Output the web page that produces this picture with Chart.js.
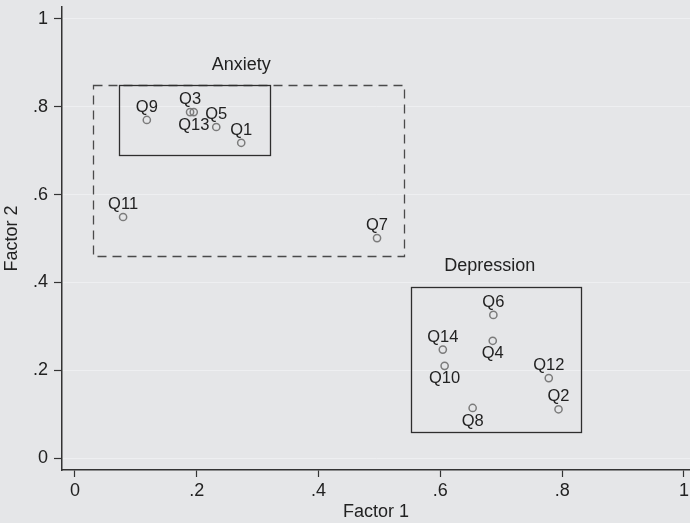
<!DOCTYPE html>
<html>
<head>
<meta charset="utf-8">
<script src="https://cdn.jsdelivr.net/npm/chart.js@4.4.0/dist/chart.umd.min.js"></script>
<style>
  html, body { margin: 0; padding: 0; background: #e5e6e8; }
  canvas { display: block; }
</style>
</head>
<body>
<canvas id="loadings" width="690" height="523"></canvas>
<script>
// Rotated factor loadings for the 14 questionnaire items
const itemNames       = ['Q1', 'Q2', 'Q3', 'Q4', 'Q5', 'Q6', 'Q7', 'Q8', 'Q9', 'Q10', 'Q11', 'Q12', 'Q13', 'Q14'];
const factor1Loadings = [0.273, 0.794, 0.189, 0.686, 0.232, 0.687, 0.496, 0.653, 0.118, 0.607, 0.079, 0.778, 0.195, 0.604];
const factor2Loadings = [0.718, 0.111, 0.788, 0.267, 0.754, 0.326, 0.501, 0.114, 0.770, 0.210, 0.549, 0.182, 0.788, 0.247];
// which side of the marker each item name sits on
const labelSide       = ['above', 'above', 'above', 'below', 'above', 'above', 'above', 'below', 'above', 'below', 'above', 'above', 'below', 'above'];

// Axis ticks
const tickValues = [0, 0.2, 0.4, 0.6, 0.8, 1];
const tickLabels = ['0', '.2', '.4', '.6', '.8', '1'];

// Grouping boxes in loading units: [x1, y1, x2, y2]
const groupNames   = ['Anxiety', 'Depression'];
const groupLabelX  = [0.273, 0.681];
const groupLabelY  = [0.895, 0.437];
const outerAnxietyBox = [0.029, 0.460, 0.540, 0.850];
const innerAnxietyBox = [0.072, 0.690, 0.320, 0.850];
const depressionBox   = [0.551, 0.060, 0.830, 0.390];

const FONT = '"Liberation Sans", Arial, Helvetica, sans-serif';
const INK = '#222222';

const points = itemNames.map((n, i) => ({ x: factor1Loadings[i], y: factor2Loadings[i] }));

const noPadding = () => ({ left: 0, right: 0, top: 0, bottom: 0 });

const backdrop = {
  id: 'backdrop',
  beforeDraw(chart) {
    const ctx = chart.ctx;
    ctx.save();
    ctx.fillStyle = '#e5e6e8';
    ctx.fillRect(0, 0, chart.width, chart.height);
    ctx.restore();
  }
};

// the x axis runs all the way to the right edge of the canvas
const fullWidthPlot = {
  id: 'fullWidthPlot',
  afterLayout(chart) {
    const x = chart.scales.x;
    x.right = chart.width;
    x.width = x.right - x.left;
    x.configure();
    chart.chartArea.right = chart.width;
    chart.chartArea.width = chart.chartArea.right - chart.chartArea.left;
  }
};

const groupBoxes = {
  id: 'groupBoxes',
  afterDatasetsDraw(chart) {
    const { ctx, scales: { x, y } } = chart;
    const rect = (b) => {
      const l = x.getPixelForValue(b[0]), r = x.getPixelForValue(b[2]);
      const t = y.getPixelForValue(b[3]), btm = y.getPixelForValue(b[1]);
      ctx.strokeRect(Math.round(l) + 0.5, Math.round(t) + 0.5, Math.round(r - l), Math.round(btm - t));
    };
    ctx.save();
    ctx.lineWidth = 1.3;
    ctx.strokeStyle = '#4a4a4a';
    ctx.setLineDash([9, 6]);
    rect(outerAnxietyBox);
    ctx.setLineDash([]);
    ctx.strokeStyle = '#2e2e2e';
    rect(innerAnxietyBox);
    rect(depressionBox);

    ctx.fillStyle = INK;
    ctx.font = '18px ' + FONT;
    ctx.textAlign = 'center';
    ctx.textBaseline = 'middle';
    groupNames.forEach((g, i) => {
      ctx.fillText(g, x.getPixelForValue(groupLabelX[i]), y.getPixelForValue(groupLabelY[i]));
    });
    ctx.restore();
  }
};

const itemLabels = {
  id: 'itemLabels',
  afterDatasetsDraw(chart) {
    const ctx = chart.ctx;
    const meta = chart.getDatasetMeta(0);
    ctx.save();
    ctx.fillStyle = INK;
    ctx.font = '16.5px ' + FONT;
    ctx.textAlign = 'center';
    ctx.textBaseline = 'middle';
    meta.data.forEach((pt, i) => {
      const dy = labelSide[i] === 'below' ? 13 : -12.5;
      ctx.fillText(itemNames[i], pt.x, pt.y + dy);
    });
    ctx.restore();
  }
};

new Chart(document.getElementById('loadings'), {
  type: 'scatter',
  data: {
    datasets: [{
      data: points,
      pointStyle: 'circle',
      pointRadius: 3.6,
      pointBorderWidth: 1.5,
      pointBorderColor: '#7b7b7b',
      pointBackgroundColor: 'rgba(0,0,0,0)'
    }]
  },
  options: {
    responsive: false,
    animation: false,
    devicePixelRatio: 1,
    layout: { padding: { top: 7, right: 0, left: 0, bottom: 0 } },
    plugins: { legend: { display: false }, tooltip: { enabled: false } },
    scales: {
      x: {
        type: 'linear',
        min: -0.0213,
        max: 1.0099,
        afterFit(s) { s.height = 53; s.paddingLeft = 0; s.paddingRight = 0; s.getPadding = noPadding; },
        afterBuildTicks(s) { s.ticks = tickValues.map(v => ({ value: v })); },
        grid: { drawOnChartArea: false, tickLength: 7, tickColor: '#333', tickWidth: 1.2 },
        border: { color: '#333', width: 1.5 },
        ticks: {
          color: INK,
          font: { family: FONT, size: 18 },
          padding: 3,
          maxRotation: 0,
          autoSkip: false,
          callback(v) { const k = tickValues.indexOf(v); return k >= 0 ? tickLabels[k] : ''; }
        },
        title: { display: true, text: 'Factor 1', color: INK, font: { family: FONT, size: 18 }, padding: 0 }
      },
      y: {
        type: 'linear',
        min: -0.0273,
        max: 1.0273,
        afterFit(s) { s.width = 62; s.paddingTop = 0; s.paddingBottom = 0; s.getPadding = noPadding; },
        afterBuildTicks(s) { s.ticks = tickValues.map(v => ({ value: v })); },
        grid: { drawOnChartArea: true, color: '#eeeff1', lineWidth: 1, tickLength: 8, tickColor: '#333', tickWidth: 1.2 },
        border: { color: '#333', width: 1.5 },
        ticks: {
          color: INK,
          font: { family: FONT, size: 18 },
          padding: 6,
          autoSkip: false,
          callback(v) { const k = tickValues.indexOf(v); return k >= 0 ? tickLabels[k] : ''; }
        },
        title: { display: true, text: 'Factor 2', color: INK, font: { family: FONT, size: 18 }, padding: { top: 1, bottom: 0 } }
      }
    }
  },
  plugins: [backdrop, fullWidthPlot, groupBoxes, itemLabels]
});
</script>
</body>
</html>
